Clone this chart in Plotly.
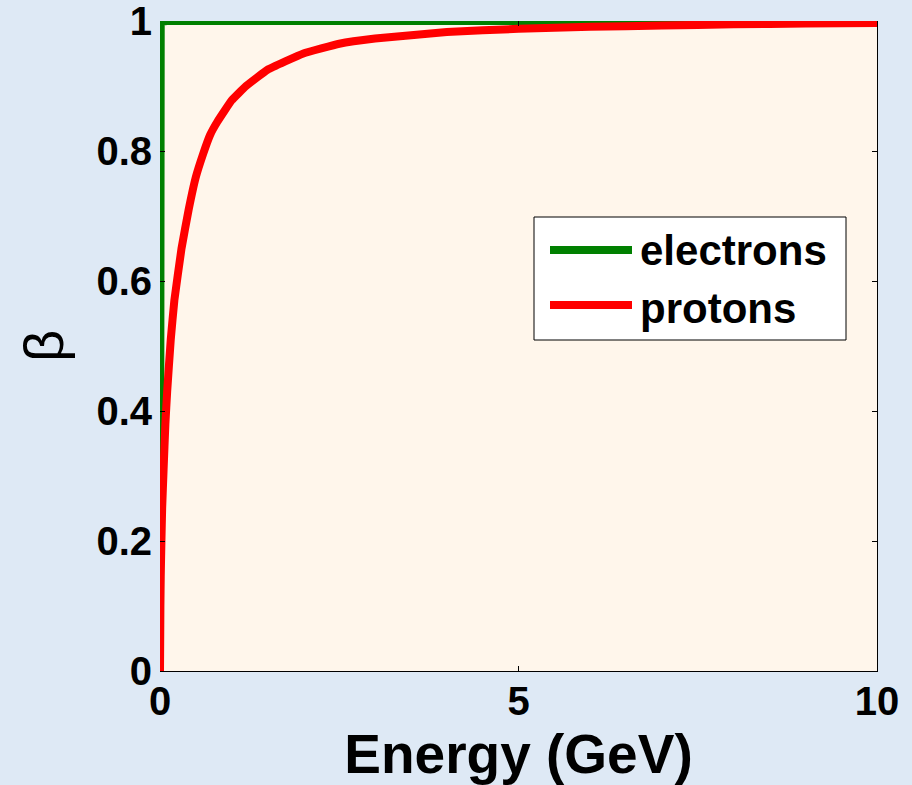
import plotly.graph_objects as go

# ---- data ----
electron_energy = [0, 0.0005, 0.001, 0.002, 0.005, 0.01, 0.1, 1.0, 10.0]
electron_beta = [0, 0.80, 0.90, 0.97, 0.995, 0.9987, 1.0, 1.0, 1.0]

proton_energy = [0, 0.005, 0.01, 0.02, 0.03, 0.05, 0.075, 0.1, 0.15, 0.2, 0.3, 0.4,
                 0.5, 0.6, 0.7, 0.8, 1.0, 1.2, 1.5, 2.0, 2.5, 3.0, 4.0, 5.0, 6.0,
                 7.0, 8.0, 9.0, 10.0]
proton_beta = [0, 0.10, 0.145, 0.20, 0.25, 0.31, 0.38, 0.43, 0.51, 0.57, 0.65, 0.71,
               0.76, 0.795, 0.825, 0.845, 0.878, 0.90, 0.925, 0.95, 0.965, 0.973,
               0.983, 0.988, 0.991, 0.993, 0.995, 0.996, 0.997]

x_tickvals = [0, 5, 10]
x_ticktext = ["0", "5", "10"]
y_tickvals = [0, 0.2, 0.4, 0.6, 0.8, 1.0]
y_ticktext = ["0", "0.2", "0.4", "0.6", "0.8", "1"]

series_names = ["electrons", "protons"]
series_colors = ["#008000", "#ff0000"]

# ---- layout geometry (pixels) ----
W, H = 912, 785
L, R, T, B = 160, 877, 21, 671
BG = "#dee9f5"


def px(x):
    return (x - L) / (R - L)


def py(y):
    return (B - y) / (B - T)


FONT = "Liberation Sans, Arial, sans-serif"

fig = go.Figure()
fig.add_trace(go.Scatter(x=electron_energy, y=electron_beta, mode="lines",
                         name=series_names[0],
                         line=dict(color=series_colors[0], width=8),
                         showlegend=False))
fig.add_trace(go.Scatter(x=proton_energy, y=proton_beta, mode="lines",
                         name=series_names[1],
                         line=dict(color=series_colors[1], width=8, shape="spline",
                                   smoothing=0.3),
                         showlegend=False))
# helper trace so the mirrored axes are drawn
fig.add_trace(go.Scatter(x=[None], y=[None], xaxis="x2", yaxis="y2",
                         showlegend=False, hoverinfo="skip"))

tickfont = dict(family=FONT, size=40, color="black", weight="bold")

fig.update_layout(
    width=W, height=H,
    margin=dict(l=L, r=W - R, t=T, b=H - B, pad=0, autoexpand=False),
    paper_bgcolor=BG,
    plot_bgcolor="#fff6eb",
    xaxis=dict(range=[0, 10], tickvals=x_tickvals, ticktext=x_ticktext,
               ticks="inside", ticklen=5, tickcolor="black", tickwidth=1,
               showline=True, linecolor="black", linewidth=1, automargin=False,
               showgrid=False, zeroline=False, tickfont=tickfont,
               ticklabeloverflow="allow", ticklabelstandoff=-5,
               title=dict(text="Energy (GeV)", standoff=9,
                          font=dict(family=FONT, size=55, color="black",
                                    weight="bold"))),
    xaxis2=dict(range=[0, 10], overlaying="x", side="top", tickvals=x_tickvals,
                ticks="inside", ticklen=5, tickcolor="black", tickwidth=1,
                showticklabels=False, showline=False, showgrid=False,
                zeroline=False, automargin=False),
    yaxis=dict(range=[0, 1], tickvals=y_tickvals, ticktext=y_ticktext,
               ticks="inside", ticklen=5, tickcolor="black", tickwidth=1,
               showline=False, showgrid=False, zeroline=False, tickfont=tickfont,
               ticklabeloverflow="allow", ticklabelstandoff=7, automargin=False,
               title=dict(text="β", standoff=14,
                          font=dict(family=FONT, size=56, color="black"))),
    yaxis2=dict(range=[0, 1], overlaying="y", side="right", tickvals=y_tickvals,
                ticks="inside", ticklen=5, tickcolor="black", tickwidth=1,
                showticklabels=False, showline=True, linecolor="black",
                linewidth=1, showgrid=False, zeroline=False, automargin=False),
)

# ---- legend box drawn as in the reference ----
shapes = [dict(type="rect", xref="paper", yref="paper",
               x0=px(534), x1=px(846), y0=py(340), y1=py(217),
               fillcolor="white", line=dict(color="black", width=1))]
leg_rows = [250, 305]
for name, color, yrow in zip(series_names, series_colors, leg_rows):
    shapes.append(dict(type="line", xref="paper", yref="paper",
                       x0=px(550), x1=px(632), y0=py(yrow), y1=py(yrow),
                       line=dict(color=color, width=8)))
    fig.add_annotation(x=px(638), y=py(yrow + (0 if name == "electrons" else 3)),
                       xref="paper", yref="paper",
                       text=name, showarrow=False, xanchor="left", yanchor="middle",
                       font=dict(family=FONT, size=42, color="black", weight="bold"))
fig.update_layout(shapes=shapes)

fig.write_html(
    "out.html",
    config={"displayModeBar": False},
    post_script=("document.body.style.margin='0px';"
                 "document.body.style.backgroundColor='" + BG + "';"),
)
